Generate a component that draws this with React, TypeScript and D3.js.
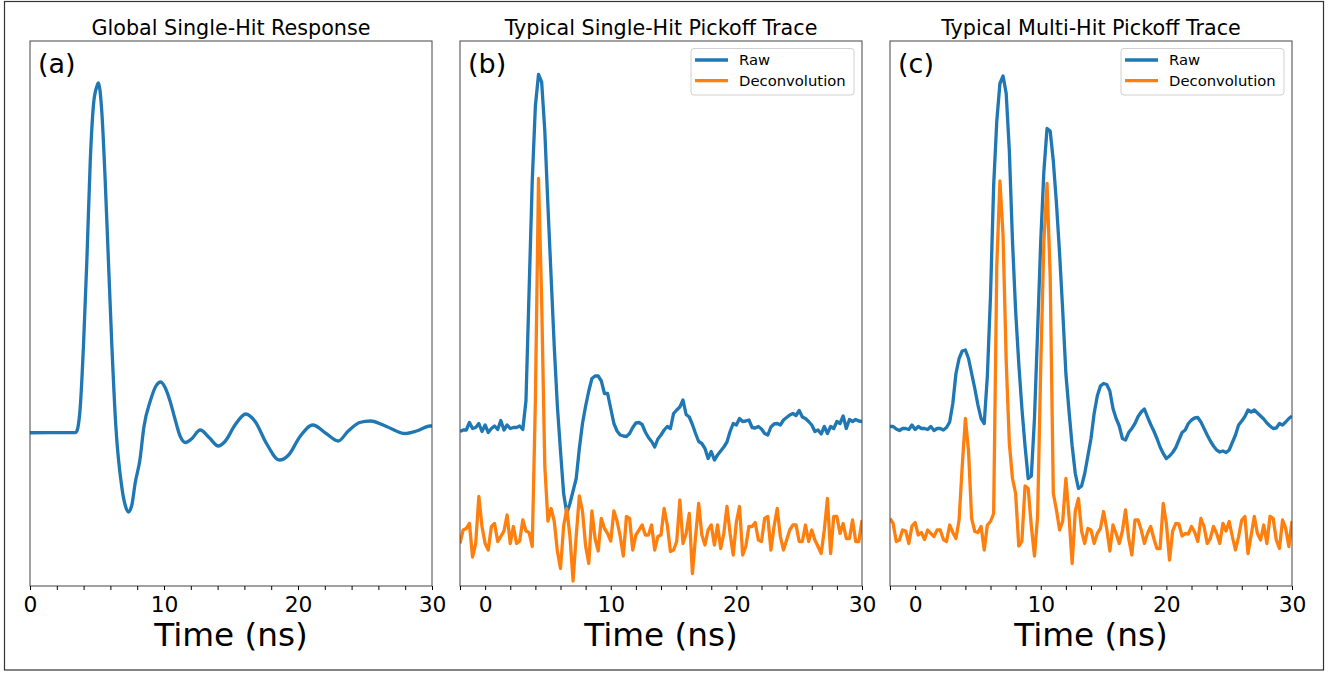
import React, { useEffect, useRef } from "react";
import * as d3 from "d3";

// panel (a): global single-hit response, read at irregular times (ns)
const respTime = [0, 3.4, 3.5, 3.75, 4.0, 4.25, 4.5, 4.75, 5.0, 5.1, 5.35, 5.6, 5.85, 6.1, 6.4, 6.85, 7.1, 7.35, 7.6, 7.85,
  8.2, 8.5, 9.0, 9.4, 9.75, 10.1, 10.45, 10.8, 11.2, 11.6, 12.05, 12.7, 13.4, 14.05, 14.55, 15.3, 16.1, 16.8, 17.65, 18.6,
  19.3, 20.15, 21.1, 22.1, 23.0, 23.75, 24.6, 25.4, 26.6, 28.0, 28.85, 29.85, 30];
const respValue = [-1.35, -1.3, -1.0, 3.8, 16.6, 33.6, 53.2, 64.6, 68, 68.6, 63.2, 49.8, 33.2, 16.6, 0.2, -12.2, -15.8, -17.2, -15.8, -11.4,
  -6.8, -0.2, 5.2, 8, 8.8, 7.6, 5, 1.6, -2, -3.3, -2.6, -0.8, -2.4, -4, -3.1, 0.2, 2.4, 0.9, -3.5, -6.8,
  -5.8, -2.1, 0.2, -1.5, -3, -1, 0.7, 1, -0.1, -1.5, -1, 0, 0];

// panels (b) and (c): one sample every 0.25 ns from -2 to 30 ns
const sampleTime = d3.range(-2, 30.001, 0.25);

const singleRaw = [
  -1.1, -0.8, -0.8, 0.7, -0.5, -0.3, 0.5, -1.1,
  0.2, -1.3, -0.5, 0, -0.7, 1.1, -0.8, 0.2,
  -0.5, -0.3, -0.3, 0, -0.7, 5, 27, 49,
  64, 70.3, 68.8, 59, 44, 30, 16, 4,
  -5, -13.5, -17.5, -15.5, -13, -10.5, -4.5, 0.5,
  4, 7, 9.5, 10, 10, 9, 6.5, 6.5,
  3.5, 0.5, -1.0, -1.8, -2.0, -2.1, -1.5, -0.3,
  0.6, 0.7, 0.3, -1.2, -2.3, -3.1, -4.2, -2.6,
  -1.8, -0.8, -0.1, -0.5, 2.5, 3.2, 3.8, 5.2,
  2.3, 1.8, 0.3, -1.5, -3.1, -3.5, -4.5, -6.5,
  -5.1, -6.8, -5.8, -5.0, -4.2, -3.2, -1.1, 0.5,
  0.2, 1.5, 0.9, 1.0, 1.2, -0.3, -0.4, -0.1,
  -0.6, -1.5, -1.8, -0.2, 0.4, 0.5, 0.2, 1.2,
  1.7, 2.2, 2.5, 2.1, 3.1, 1.8, 1.5, 0.9,
  0.2, -1.1, -0.8, -1.6, -0.1, -1.5, -0.1, -0.5,
  0.9, 0.5, 2.0, -0.5, 1.3, 0.9, 1.3, 1.0,
  0.9,
];

const singleDeconv = [
  -23.5, -20.8, -20.5, -19.5, -26.2, -23.5, -14.1, -20.1,
  -23.5, -24.8, -20.1, -19.5, -23.1, -22.1, -21.0, -17.8,
  -23.5, -20.1, -23.5, -23.0, -18.8, -21.0, -21.3, -24.1,
  5, 49.5, 25, -8, -19, -16.5, -19, -25,
  -28.5, -20, -16.5, -22, -31, -22, -14, -17,
  -24, -27.5, -17, -22.5, -25, -18.5, -20.5, -21.5,
  -23, -17, -19, -22, -26, -18.1, -18.5, -24.8,
  -21.8, -20.8, -19.8, -21.8, -21.8, -19.8, -24.8, -22.1,
  -21.8, -16.5, -19.8, -25.1, -24.8, -23.1, -14.8, -23.5,
  -21.5, -17.5, -29.5, -22.1, -15.5, -21.8, -23.8, -20.8,
  -19.8, -23.8, -19.8, -24.5, -21.5, -16.1, -21.5, -25.8,
  -19.2, -16.1, -25.8, -24.1, -20.1, -20.1, -19.3, -22.8,
  -23.1, -18.5, -18.1, -24.8, -20.1, -16.5, -22.1, -24.8,
  -22.8, -20.8, -19.8, -19.8, -23.1, -23.1, -19.8, -23.1,
  -20.8, -22.8, -24.1, -25.5, -20.8, -14.5, -25.5, -18.1,
  -18.1, -21.5, -19.5, -22.5, -22.5, -18.8, -23.1, -23.1,
  -18.8,
];

const multiRaw = [
  -0.1, -0.1, -0.6, -0.9, -0.5, -0.5, -0.7, 0.2,
  -0.7, -0.1, -0.5, -0.5, -0.7, -0.1, -0.9, -0.5,
  -0.5, -0.8, -0.3, 0.8, 4.5, 10.5, 13.5, 15.0,
  15.2, 13.5, 10.5, 7.5, 4.2, 1.5, 0.5, 10,
  26, 48, 61, 68.5, 70, 66.5, 55, 37,
  23, 12.5, 3.5, -4, -10.5, -10, 1.5, 19,
  37, 51, 59.5, 59, 53, 44.5, 34.5, 23,
  10.5, 3, -4, -9.5, -12.5, -12, -9.5, -6,
  -2.5, 2.5, 6, 8, 8.5, 8.3, 7, 3.5,
  1.5, 0, -2.5, -2.8, -1.3, -0.5, 0.5, 1.9,
  2.8, 3.4, 1.8, 0.3, -1, -2.5, -4.2, -5.5,
  -6.5, -6, -5.3, -4.3, -2.8, -1.3, -0.8, 0.5,
  1.2, 1.6, 1.7, 0.8, -0.5, -1.8, -3.0, -4.0,
  -4.8, -5.2, -5.0, -5.3, -4.8, -3.3, -1.8, 0.2,
  1.0, 1.9, 3.2, 2.8, 3.2, 2.6, 2.0, 1.4,
  0.6, 0, -0.5, -0.4, 0.5, 0.2, 0.8, 1.5,
  2.0,
];

const multiDeconv = [
  -18.5, -19.5, -23.1, -22.8, -20.8, -21.0, -23.5, -20.0,
  -19.3, -21.8, -21.3, -22.7, -20.8, -21.5, -22.1, -20.8,
  -20.8, -22.7, -23.1, -19.8, -21.3, -22.5, -18.8, -8,
  1.5, -5, -18.5, -21.1, -21.3, -20.1, -24.8, -19.8,
  -19.1, -17.5, 32, 49, 38, 13, -3.5, -10.5,
  -13.5, -24, -23, -12, -12.5, -20, -26, -18,
  12, 37, 48.5, 30, -13.5, -16.8, -20.8, -19,
  -10.5, -18, -27.5, -17, -14.5, -21, -23.5, -20.5,
  -20.8, -23.5, -21.5, -20.5, -17.1, -20.5, -25, -19.8,
  -21.5, -23.5, -21, -16.8, -22.5, -25.8, -18.8, -18.8,
  -20.8, -23.5, -21.5, -20.1, -22.5, -24.5, -24.5, -15.5,
  -19.5, -26.8, -21, -19.5, -19.6, -22, -21.5, -21.6,
  -20.1, -21.2, -23.1, -18.5, -20.1, -23.5, -22.5, -20.1,
  -21.5, -23.5, -19.5, -21, -19.1, -22.1, -24.8, -22.1,
  -18.8, -18.1, -25.5, -21.8, -18.1, -21.5, -22.8, -19.8,
  -23.5, -18.1, -18.5, -22.8, -24.5, -18.8, -20.5, -24.1,
  -19,
];

const titles = ["Global Single-Hit Response", "Typical Single-Hit Pickoff Trace", "Typical Multi-Hit Pickoff Trace"];
const tags = ["(a)", "(b)", "(c)"];
const legendLabels = ["Raw", "Deconvolution"];
const xLabel = "Time (ns)";
const colors = { Raw: "#1f77b4", Deconvolution: "#ff7f0e" };

const FONT = "DejaVu Sans, sans-serif";
const panelLeft = [30, 460, 890];
const panelW = 402;
const top = 41;
const bottom = 586;

function Panel({ index, domain, series, legend }) {
  const axisRef = useRef(null);
  const x0 = panelLeft[index];
  const xScale = d3.scaleLinear().domain(domain).range([x0, x0 + panelW]);
  const yScale = d3.scaleLinear().domain([-32, 77]).range([bottom, top]);

  useEffect(() => {
    const ticks = d3.range(Math.ceil(domain[0] / 2) * 2, domain[1] + 0.001, 2);
    const xAxis = d3.axisBottom(xScale)
      .tickValues(ticks)
      .tickSize(4)
      .tickPadding(6.2)
      .tickFormat(d => (d % 10 === 0 ? String(d) : ""));
    const g = d3.select(axisRef.current);
    g.call(xAxis);
    g.select(".domain").remove();
    g.selectAll(".tick line").attr("stroke", "#000").attr("stroke-width", 1);
    g.selectAll(".tick text")
      .attr("font-size", 21.8)
      .attr("font-family", FONT)
      .attr("fill", "#000");
  }, [index]);

  const cx = x0 + panelW / 2;
  const legendRight = x0 + panelW - 8;
  const legendLeft = legendRight - 163;

  return (
    <g>
      <defs>
        <clipPath id={`clip-${index}`}>
          <rect x={x0} y={top} width={panelW} height={bottom - top} />
        </clipPath>
      </defs>
      <text x={cx} y={35} textAnchor="middle" fontFamily={FONT} fontSize={20.7} fill="#000">
        {titles[index]}
      </text>
      <g clipPath={`url(#clip-${index})`}>
        {series.map(s => {
          const line = d3.line()
            .x((_, i) => xScale(s.time[i]))
            .y(d => yScale(d))
            .curve(s.smooth ? d3.curveMonotoneX : d3.curveLinear);
          return (
            <path key={s.key} d={line(s.values)} fill="none" stroke={colors[s.key]}
              strokeWidth={3.3} strokeLinejoin="round" />
          );
        })}
      </g>
      <rect x={x0} y={top} width={panelW} height={bottom - top} fill="none" stroke="#444" strokeWidth={1} />
      <text x={x0 + 8} y={73} fontFamily={FONT} fontSize={27} fill="#000">{tags[index]}</text>
      {legend && (
        <g>
          <rect x={legendLeft} y={48.5} width={163} height={46.5} rx={3} fill="#fff" fillOpacity={0.8}
            stroke="#d0d0d0" strokeWidth={1} />
          {legendLabels.map((label, i) => (
            <g key={label}>
              <line x1={legendLeft + 4} x2={legendLeft + 37} y1={60 + i * 20.7} y2={60 + i * 20.7}
                stroke={colors[label]} strokeWidth={3.3} />
              <text x={legendLeft + 48} y={65.2 + i * 20.7} fontFamily={FONT} fontSize={14.8} fill="#000">{label}</text>
            </g>
          ))}
        </g>
      )}
      <g ref={axisRef} transform={`translate(0, ${bottom})`} />
      <text x={cx} y={646} textAnchor="middle" fontFamily={FONT} fontSize={32.7} fill="#000">{xLabel}</text>
    </g>
  );
}

export default function App() {
  return (
    <svg width={1335} height={673} style={{ position: "absolute", left: 0, top: 0, background: "#fff" }}>
      <rect x={4.5} y={1.5} width={1319} height={668.5} fill="#fff" stroke="#333" strokeWidth={1.2} />
      <Panel index={0} domain={[0, 30]} legend={false}
        series={[{ key: "Raw", time: respTime, values: respValue, smooth: true }]} />
      <Panel index={1} domain={[-2, 30]} legend={true}
        series={[
          { key: "Raw", time: sampleTime, values: singleRaw },
          { key: "Deconvolution", time: sampleTime, values: singleDeconv },
        ]} />
      <Panel index={2} domain={[-2, 30]} legend={true}
        series={[
          { key: "Raw", time: sampleTime, values: multiRaw },
          { key: "Deconvolution", time: sampleTime, values: multiDeconv },
        ]} />
    </svg>
  );
}
